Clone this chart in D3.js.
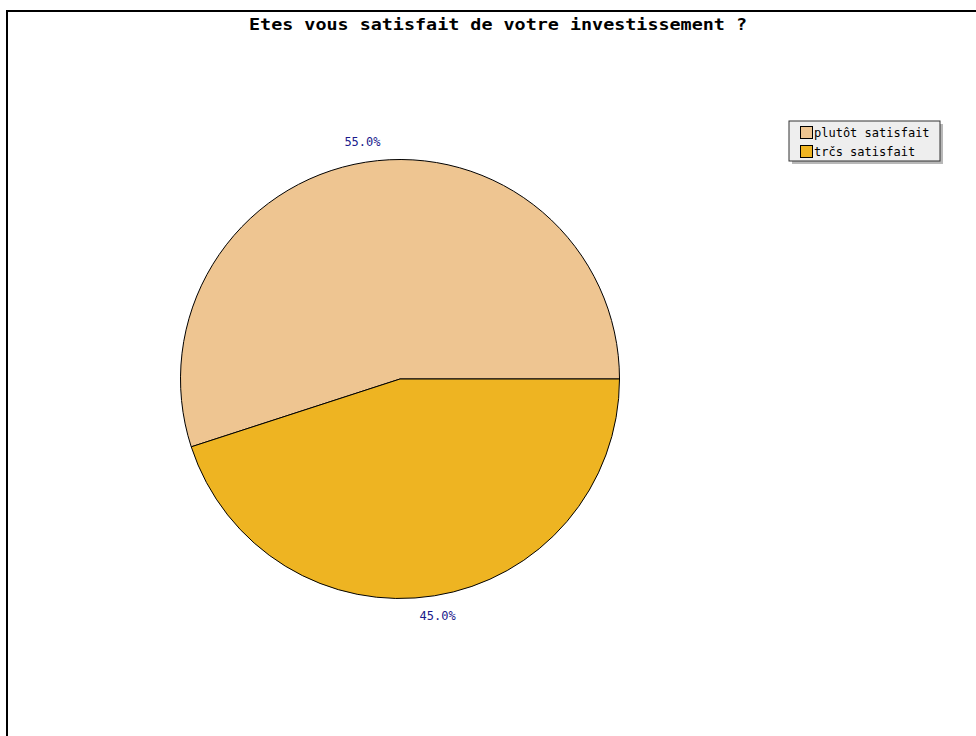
<!DOCTYPE html>
<html>
<head>
<meta charset="utf-8">
<script src="https://cdn.jsdelivr.net/npm/d3@7"></script>
<style>
  html, body { margin: 0; padding: 0; background: #fff; }
  svg { display: block; }
</style>
</head>
<body>
<svg id="chart" width="976" height="736"></svg>
<script>
const title = "Etes vous satisfait de votre investissement ?";
const categories = ["plutôt satisfait", "trčs satisfait"];
const values = [55, 45];
const colors = ["#EEC591", "#EEB422"];

const svg = d3.select("#chart");
const W = 976, H = 736;

// frame
svg.append("rect").attr("x", 7).attr("y", 11).attr("width", W + 10).attr("height", H + 10)
  .attr("fill", "#fff").attr("stroke", "#000").attr("stroke-width", 2);

// title
svg.append("text").attr("x", 498).attr("y", 30).attr("text-anchor", "middle")
  .attr("font-family", "DejaVu Sans Mono, monospace").attr("font-size", 16).attr("font-weight", "bold")
  .attr("textLength", 498).attr("lengthAdjust", "spacingAndGlyphs")
  .attr("fill", "#000").text(title);

const cx = 400, cy = 379, r = 219.5;
const total = d3.sum(values);
const pie = d3.pie().sort(null).value(d => d)
  .startAngle(Math.PI / 2).endAngle(Math.PI / 2 - 2 * Math.PI);
const arcs = pie(values);
const arc = d3.arc().innerRadius(0).outerRadius(r);
const labelArc = d3.arc().innerRadius(240).outerRadius(240);

const g = svg.append("g").attr("transform", `translate(${cx},${cy})`);
g.selectAll("path.slice").data(arcs).join("path").attr("class", "slice")
  .attr("d", arc).attr("fill", (d, i) => colors[i])
  .attr("stroke", "#000").attr("stroke-width", 1).attr("stroke-linejoin", "round");

g.selectAll("text.lbl").data(arcs).join("text").attr("class", "lbl")
  .attr("transform", d => `translate(${labelArc.centroid(d)})`)
  .attr("text-anchor", "middle").attr("dy", "0.35em")
  .attr("font-family", "DejaVu Sans Mono, monospace").attr("font-size", 12)
  .attr("fill", "#1a1a8c")
  .text(d => (d.value / total * 100).toFixed(1) + "%");

// legend
const lx = 789, ly = 121, lw = 151, lh = 40;
svg.append("rect").attr("x", lx + 3).attr("y", ly + 3).attr("width", lw).attr("height", lh)
  .attr("fill", "#b8b8b8");
svg.append("rect").attr("x", lx).attr("y", ly).attr("width", lw).attr("height", lh)
  .attr("fill", "#eeeeee").attr("stroke", "#333").attr("stroke-width", 1);
const items = svg.selectAll("g.leg").data(categories).join("g").attr("class", "leg")
  .attr("transform", (d, i) => `translate(${lx + 11},${ly + 5 + i * 19})`);
items.append("rect").attr("x", 0.5).attr("y", 0.5).attr("width", 12).attr("height", 12)
  .attr("fill", (d, i) => colors[i]).attr("stroke", "#000").attr("stroke-width", 1);
items.append("text").attr("x", 14).attr("y", 11)
  .attr("font-family", "DejaVu Sans Mono, monospace").attr("font-size", 12)
  .attr("fill", "#000").text(d => d);
</script>
</body>
</html>
